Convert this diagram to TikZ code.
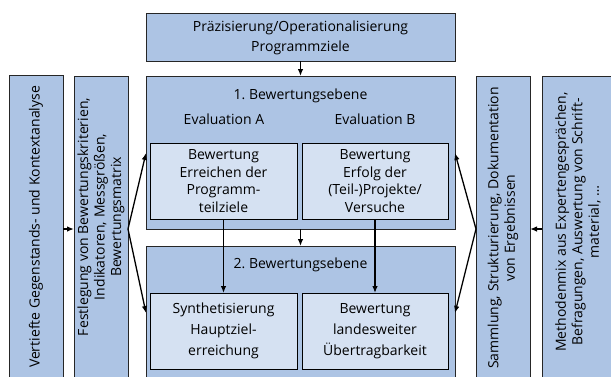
\documentclass[tikz,border=0pt]{standalone}
\usepackage{fontspec}
\setmainfont{Open Sans}
\usetikzlibrary{arrows.meta}
\definecolor{outerblue}{HTML}{ADC4E4}
\definecolor{innerblue}{HTML}{D5E1F2}
\tikzset{
  panel/.style={draw=black!85, fill=outerblue, line width=0.9pt, anchor=north west, inner sep=0pt, outer sep=0pt},
  card/.style={draw=black, fill=innerblue, line width=0.9pt, anchor=north west, inner sep=0pt, outer sep=0pt,
    align=center, font=\fontsize{14}{17.8}\selectfont},
  txt/.style={font=\fontsize{14}{18}\selectfont, align=center, inner sep=0pt},
  vtxt/.style={font=\fontsize{14}{16.5}\selectfont, align=center, inner sep=0pt, rotate=90},
  flow/.style={line width=1.3pt, -{Latex[length=7pt,width=5.5pt]}},
}
\begin{document}
\begin{tikzpicture}[x=1pt,y=-1pt]
  \useasboundingbox (0,0) rectangle (611,376);
  \clip (0,0) rectangle (611,376);
  \fill[white] (0,0) rectangle (611,376);

  % outer panels
  \node[panel, minimum width=309pt, minimum height=48pt]  (top)  at (146,13)  {};
  \node[panel, minimum width=309pt, minimum height=153pt] (lvl1) at (146,76)  {};
  \node[panel, minimum width=309pt, minimum height=160pt] (lvl2) at (146,246) {};
  \node[panel, minimum width=54pt,  minimum height=330pt] (left1)  at (9,75)   {};
  \node[panel, minimum width=54pt,  minimum height=330pt] (left2)  at (74,76)  {};
  \node[panel, minimum width=54pt,  minimum height=330pt] (right1) at (476,76) {};
  \node[panel, minimum width=80pt,  minimum height=330pt] (right2) at (542,76) {};

  % inner cards
  \node[card, minimum width=147pt, minimum height=76pt] (a1) at (150,143)
    {Bewertung\\Erreichen der\\Programm-\\teilziele};
  \node[card, minimum width=146pt, minimum height=76pt] (b1) at (302,143)
    {Bewertung\\Erfolg der\\(Teil-)Projekte/\\Versuche};
  \node[card, minimum width=147pt, minimum height=76pt, font=\fontsize{14}{21}\selectfont] (a2) at (150,293)
    {Synthetisierung\\Hauptziel-\\erreichung};
  \node[card, minimum width=146pt, minimum height=76pt, font=\fontsize{14}{21}\selectfont] (b2) at (302,293)
    {Bewertung\\landesweiter\\Übertragbarkeit};

  % panel labels
  \node[txt] (topT) at (300.5,38) {Präzisierung/Operationalisierung\\[2pt]Programmziele};
  \node[txt] (lvl1T) at (300.5,96) {1.\ Bewertungsebene};
  \node[txt] (evA) at (224,119) {Evaluation A};
  \node[txt] (evB) at (375,119) {Evaluation B};
  \node[txt] (lvl2T) at (300.5,265) {2.\ Bewertungsebene};

  % vertical labels
  \node[vtxt] (left1T)  at (36,227)  {Vertiefte Gegenstands- und Kontextanalyse};
  \node[vtxt] (left2T)  at (101,217) {Festlegung von Bewertungskriterien,\\Indikatoren, Messgrößen,\\Bewertungsmatrix};
  \node[vtxt] (right1T) at (503,228) {Sammlung, Strukturierung, Dokumentation\\von Ergebnissen};
  \node[vtxt] (right2T) at (578,222) {Methodenmix aus Expertengesprächen,\\Befragungen, Auswertung von Schrift-\\material, \dots};

  % fan-out points
  \coordinate (fanL)  at (128,229);
  \coordinate (fanR)  at (476,229);
  \coordinate (tipL1) at (146,153);
  \coordinate (tipL2) at (146,313);
  \coordinate (tipR1) at (455,153);
  \coordinate (tipR2) at (455,313);

  % connectors
  \draw[flow] (top) -- (lvl1);
  \draw[flow] (lvl1) -- (lvl2);
  \draw[flow] (a1) -- (a2);
  \draw[flow] (b1) -- (b2);
  \draw[flow] (left1.east |- fanL) -- (left2.west |- fanL);
  \draw[flow] (right2.west |- fanR) -- (right1.east |- fanR);
  \draw[flow] (fanL) -- (tipL1);
  \draw[flow] (fanL) -- (tipL2);
  \draw[flow] (fanR) -- (tipR1);
  \draw[flow] (fanR) -- (tipR2);
\end{tikzpicture}
\end{document}
